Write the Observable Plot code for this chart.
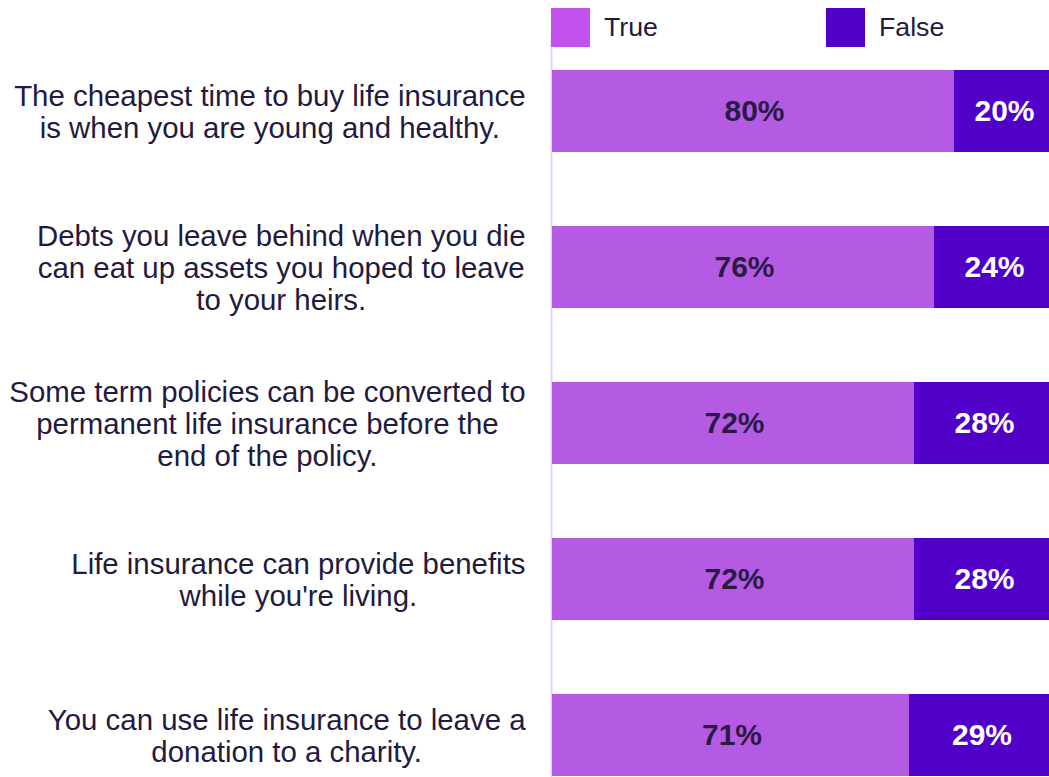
<!DOCTYPE html>
<html>
<head>
<meta charset="utf-8">
<script src="https://cdn.jsdelivr.net/npm/d3@7"></script>
<script src="https://cdn.jsdelivr.net/npm/@observablehq/plot@0.6"></script>
<style>
  html, body { margin: 0; padding: 0; background: #fff; overflow: hidden; }
  #wrap { position: relative; width: 1049px; height: 777px; overflow: hidden; font-family: "Liberation Sans", Arial, sans-serif; }
  #legend { position: absolute; left: 0; top: 0; width: 1049px; height: 56px; }
  .item { position: absolute; top: 8px; display: flex; align-items: center; height: 39px; font-size: 26.7px; color: #231a40; }
  .sw { width: 39px; height: 39px; margin-right: 14px; }
</style>
</head>
<body>
<div id="wrap">
  <div id="chart"></div>
  <div id="legend"></div>
</div>
<script>
const categories = [
  "The cheapest time to buy life insurance\nis when you are young and healthy.",
  "Debts you leave behind when you die\ncan eat up assets you hoped to leave\nto your heirs.",
  "Some term policies can be converted to\npermanent life insurance before the\nend of the policy.",
  "Life insurance can provide benefits\nwhile you're living.",
  "You can use life insurance to leave a\ndonation to a charity."
];
const trueValues = [80, 76, 72, 72, 71];
const falseValues = [20, 24, 28, 28, 29];
const seriesNames = ["True", "False"];
const barColors = ["#b55be3", "#5100c8"];
const legendColors = ["#c152ee", "#5100c8"];
const valueTextColors = ["#2a1a45", "#ffffff"];

const rows = [];
categories.forEach((c, i) => {
  rows.push({category: c, series: "True", value: trueValues[i], start: 0, end: trueValues[i]});
  rows.push({category: c, series: "False", value: falseValues[i], start: trueValues[i], end: trueValues[i] + falseValues[i]});
});

const labelSize = 29.4;
const labelFont = labelSize + "px 'Liberation Sans', Arial, sans-serif";
const canvas = document.createElement("canvas");
const ctx = canvas.getContext("2d");
ctx.font = labelFont;
function blockWidth(s) {
  return Math.max(...s.split("\n").map(l => ctx.measureText(l).width));
}

const labelMarks = categories.map(c => Plot.text([c], {
  y: d => d,
  frameAnchor: "left",
  dx: -29 - blockWidth(c) / 2,
  text: d => d,
  textAnchor: "middle",
  lineAnchor: "middle",
  lineHeight: 1.1,
  fontSize: labelSize,
  fill: "#231a40"
}));

const chart = Plot.plot({
  width: 1049,
  height: 777,
  marginLeft: 554,
  marginRight: 0,
  marginTop: 68,
  marginBottom: 0,
  style: {fontFamily: "'Liberation Sans', Arial, sans-serif", background: "transparent", overflow: "visible"},
  x: {domain: [0, 99], axis: null},
  y: {domain: categories, axis: null, paddingInner: 0.477, paddingOuter: 0},
  color: {domain: seriesNames, range: barColors},
  marks: [
    Plot.ruleX([0], {stroke: "#e2d4fb", strokeWidth: 2, dx: -3, insetTop: -35}),
    Plot.barX(rows.filter(d => d.series === "True"), {y: "category", x1: "start", x2: "end", fill: "series", insetLeft: -2}),
    Plot.barX(rows.filter(d => d.series === "False"), {y: "category", x1: "start", x2: "end", fill: "series"}),
    Plot.text(rows, {
      y: "category",
      x: d => (d.start + d.end) / 2,
      text: d => d.value + "%",
      fill: d => valueTextColors[seriesNames.indexOf(d.series)],
      fontSize: 30,
      fontWeight: "bold"
    }),
    ...labelMarks
  ]
});
document.getElementById("chart").appendChild(chart);

const legend = document.getElementById("legend");
const legendLefts = [551, 826];
seriesNames.forEach((s, i) => {
  const item = document.createElement("div");
  item.className = "item";
  item.style.left = legendLefts[i] + "px";
  const sw = document.createElement("div");
  sw.className = "sw";
  sw.style.background = legendColors[i];
  item.appendChild(sw);
  const t = document.createElement("span");
  t.textContent = s;
  item.appendChild(t);
  legend.appendChild(item);
});
</script>
</body>
</html>
